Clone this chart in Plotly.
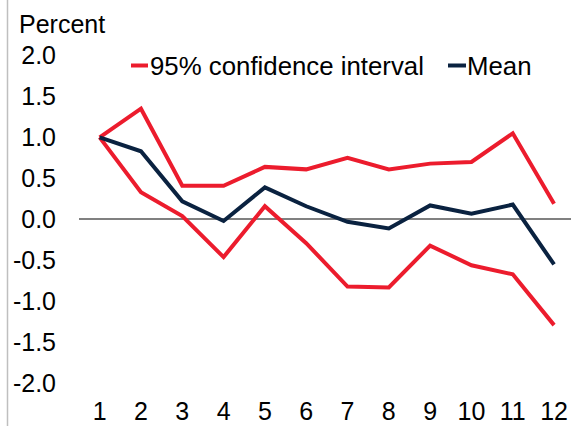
import plotly.graph_objects as go

x_vals = list(range(1, 13))
upper_ci = [1.00, 1.35, 0.41, 0.41, 0.64, 0.61, 0.75, 0.61, 0.68, 0.70, 1.05, 0.19]
mean_vals = [1.00, 0.83, 0.22, -0.02, 0.39, 0.16, -0.03, -0.11, 0.17, 0.07, 0.18, -0.55]
lower_ci = [1.00, 0.33, 0.04, -0.46, 0.16, -0.29, -0.82, -0.83, -0.32, -0.56, -0.67, -1.29]
y_ticks = [-2.0, -1.5, -1.0, -0.5, 0.0, 0.5, 1.0, 1.5, 2.0]

RED = "#EC1C2D"
NAVY = "#0A2240"
FONT = "Liberation Sans, Arial, sans-serif"
FS = 25
FS_LEG = 25.8

W, H = 571, 426
L, R, T, B = 79, 0, 39, 32
PW, PH = W - L - R, H - T - B


def px(xf):
    return (xf - L) / PW


def py(yf):
    return 1 - (yf - T) / PH


fig = go.Figure()
fig.add_trace(go.Scatter(x=x_vals, y=upper_ci, mode="lines", name="95% confidence interval",
                         line=dict(color=RED, width=4), showlegend=False))
fig.add_trace(go.Scatter(x=x_vals, y=lower_ci, mode="lines", name="95% confidence interval",
                         line=dict(color=RED, width=4), showlegend=False))
fig.add_trace(go.Scatter(x=x_vals, y=mean_vals, mode="lines", name="Mean",
                         line=dict(color=NAVY, width=4), showlegend=False))

leg_y = py(65.5)
fig.update_layout(
    width=W, height=H,
    margin=dict(l=L, r=R, t=T, b=B),
    paper_bgcolor="white", plot_bgcolor="white",
    font=dict(family=FONT, size=FS, color="black"),
    showlegend=False,
    xaxis=dict(range=[0.5, 12.41], tickmode="array", tickvals=x_vals,
               ticktext=[str(v) for v in x_vals], showgrid=False, zeroline=False,
               showline=False, ticks="", tickfont=dict(size=FS), automargin=False,
               ticklabeloverflow="allow"),
    yaxis=dict(range=[-2.13, 2.2], tickmode="array", tickvals=y_ticks,
               ticktext=[f"{v:.1f}" for v in y_ticks], showgrid=False,
               zeroline=True, zerolinecolor="#808080", zerolinewidth=1.5,
               showline=False, ticks="", ticklabelstandoff=22, tickfont=dict(size=FS),
               automargin=False),
    annotations=[
        dict(text="Percent", xref="paper", yref="paper", x=px(17), y=py(23.5),
             xanchor="left", yanchor="middle", showarrow=False,
             font=dict(size=FS, family=FONT, color="black")),
        dict(text="95% confidence interval", xref="paper", yref="paper", x=px(148), y=leg_y,
             xanchor="left", yanchor="middle", showarrow=False,
             font=dict(size=FS_LEG, family=FONT, color="black")),
        dict(text="Mean", xref="paper", yref="paper", x=px(465), y=leg_y,
             xanchor="left", yanchor="middle", showarrow=False,
             font=dict(size=FS_LEG, family=FONT, color="black")),
    ],
    shapes=[
        dict(type="line", xref="paper", yref="paper", x0=px(7.5), x1=px(7.5),
             y0=py(H), y1=py(0), line=dict(color="#BFBFBF", width=1.5)),
        dict(type="line", xref="paper", yref="paper", x0=px(131), x1=px(148),
             y0=leg_y, y1=leg_y, line=dict(color=RED, width=4)),
        dict(type="line", xref="paper", yref="paper", x0=px(448), x1=px(466),
             y0=leg_y, y1=leg_y, line=dict(color=NAVY, width=4)),
    ],
)

fig.write_html(
    "out.html",
    config={"displayModeBar": False},
    post_script="document.body.style.margin='0';document.body.style.overflow='hidden';",
)
